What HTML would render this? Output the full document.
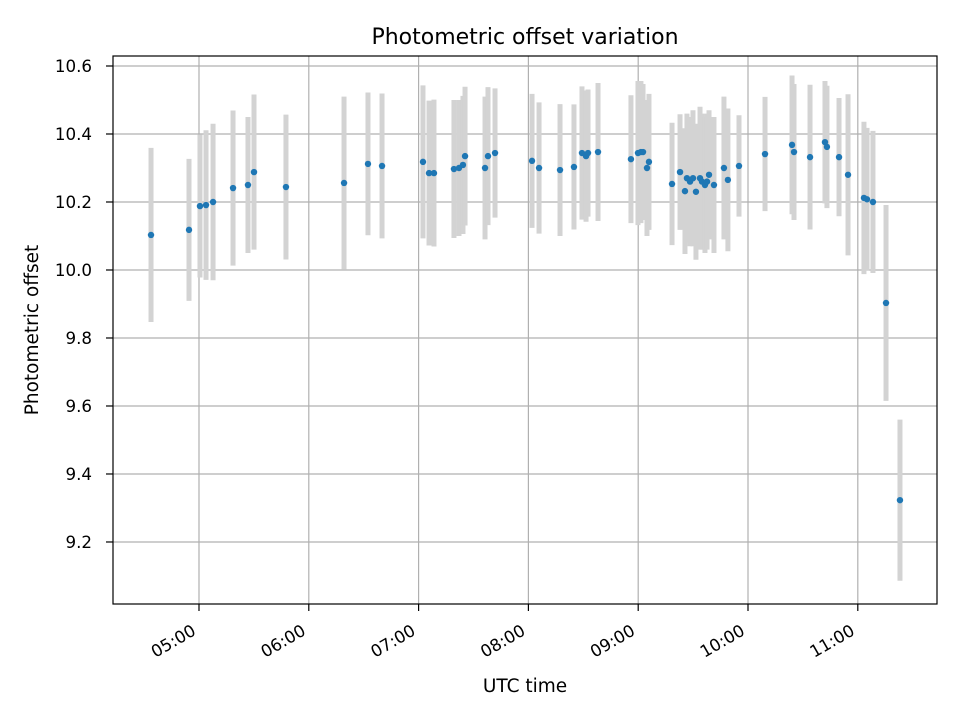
<!DOCTYPE html>
<html><head><meta charset="utf-8"><style>
body{margin:0;background:#fff;}
svg text{font-family:"DejaVu Sans","Liberation Sans",sans-serif;}
</style></head><body>
<svg id="chart" width="960" height="720" xmlns="http://www.w3.org/2000/svg">
<text x="525" y="44" font-size="22" text-anchor="middle">Photometric offset variation</text>
<text x="525" y="692" font-size="18.5" text-anchor="middle">UTC time</text>
<text transform="translate(38,330) rotate(-90)" font-size="18.5" text-anchor="middle">Photometric offset</text>
<g id="grid"></g>
<g id="bars"></g>
<g id="pts"></g>
<g id="ticks"></g>
<rect x="113" y="56" width="824" height="548" fill="none" stroke="#000" stroke-width="1.2"/>
</svg>
<script>
const times=[4.563,4.909,5.009,5.064,5.128,5.31,5.446,5.501,5.792,6.321,6.539,6.667,7.04,7.095,7.14,7.322,7.368,7.404,7.423,7.605,7.632,7.696,8.033,8.097,8.288,8.415,8.488,8.525,8.543,8.634,8.934,8.998,9.025,9.044,9.08,9.098,9.308,9.381,9.426,9.444,9.472,9.499,9.526,9.563,9.581,9.608,9.627,9.645,9.69,9.781,9.817,9.918,10.155,10.401,10.419,10.565,10.701,10.719,10.829,10.911,11.056,11.084,11.138,11.257,11.384];
const values=[10.103,10.118,10.188,10.191,10.2,10.241,10.25,10.288,10.244,10.256,10.312,10.306,10.318,10.285,10.285,10.297,10.3,10.309,10.335,10.3,10.335,10.344,10.321,10.3,10.294,10.303,10.344,10.335,10.344,10.347,10.326,10.344,10.347,10.347,10.3,10.318,10.253,10.288,10.232,10.27,10.26,10.27,10.23,10.27,10.26,10.25,10.26,10.28,10.25,10.3,10.265,10.306,10.341,10.368,10.347,10.332,10.376,10.362,10.332,10.28,10.212,10.208,10.2,9.903,9.323];
const errors=[0.256,0.209,0.21,0.22,0.23,0.228,0.2,0.228,0.213,0.254,0.21,0.213,0.225,0.213,0.216,0.203,0.2,0.203,0.204,0.21,0.203,0.19,0.197,0.193,0.194,0.184,0.196,0.193,0.187,0.203,0.188,0.212,0.209,0.2,0.2,0.2,0.18,0.17,0.185,0.19,0.19,0.2,0.2,0.21,0.2,0.2,0.2,0.19,0.2,0.21,0.21,0.149,0.168,0.204,0.2,0.213,0.18,0.18,0.174,0.237,0.224,0.21,0.209,0.288,0.237];
const yTicks=[9.2,9.4,9.6,9.8,10.0,10.2,10.4,10.6];
const xTicks=[5,6,7,8,9,10,11];
const xTickLabels=["05:00","06:00","07:00","08:00","09:00","10:00","11:00"];
const X0=113,X1=937,Y0=56,Y1=604;
const xMin=4.2168,xMax=11.7213,yMin=9.0176,yMax=10.6294;
const xs=t=>X0+(t-xMin)/(xMax-xMin)*(X1-X0);
const ys=v=>Y1-(v-yMin)/(yMax-yMin)*(Y1-Y0);
const NS="http://www.w3.org/2000/svg";
function mk(tag,attrs,parent){const e=document.createElementNS(NS,tag);for(const k in attrs)e.setAttribute(k,attrs[k]);document.getElementById(parent).appendChild(e);return e;}
yTicks.forEach((v,i)=>{
 const y=ys(v);
 const g=mk('line',{x1:X0,x2:X1,y1:y,y2:y,stroke:'#b0b0b0','stroke-width':1.2},'grid');
 
 
 const t=mk('line',{x1:X0-7,x2:X0,y1:y,y2:y,stroke:'#000','stroke-width':1.2},'ticks');
 
 
 const l=mk('text',{x:X0-21,y:y+6,'font-size':16.7,'text-anchor':'end'},'ticks');
 l.textContent=v.toFixed(1);
 
 
});
xTicks.forEach((h,i)=>{
 const x=xs(h);
 const g=mk('line',{x1:x,x2:x,y1:Y0,y2:Y1,stroke:'#b0b0b0','stroke-width':1.2},'grid');
 
 
 const t=mk('line',{x1:x,x2:x,y1:Y1,y2:Y1+7,stroke:'#000','stroke-width':1.2},'ticks');
 
 
 const l=mk('text',{x:0,y:0,'font-size':16.7,'text-anchor':'end',transform:`translate(${x-2},${Y1+30}) rotate(-30)`},'ticks');
 l.textContent=xTickLabels[i];
 
 
});
times.forEach((t,i)=>{
 const x=xs(t);
 const b=mk('line',{x1:x,x2:x,y1:ys(values[i]+errors[i]),y2:ys(values[i]-errors[i]),stroke:'#d3d3d3','stroke-width':5},'bars');
 
 
});
times.forEach((t,i)=>{
 const c=mk('circle',{cx:xs(t),cy:ys(values[i]),r:3.2,fill:'#1f77b4'},'pts');
 
 
});
</script>
</body></html>
